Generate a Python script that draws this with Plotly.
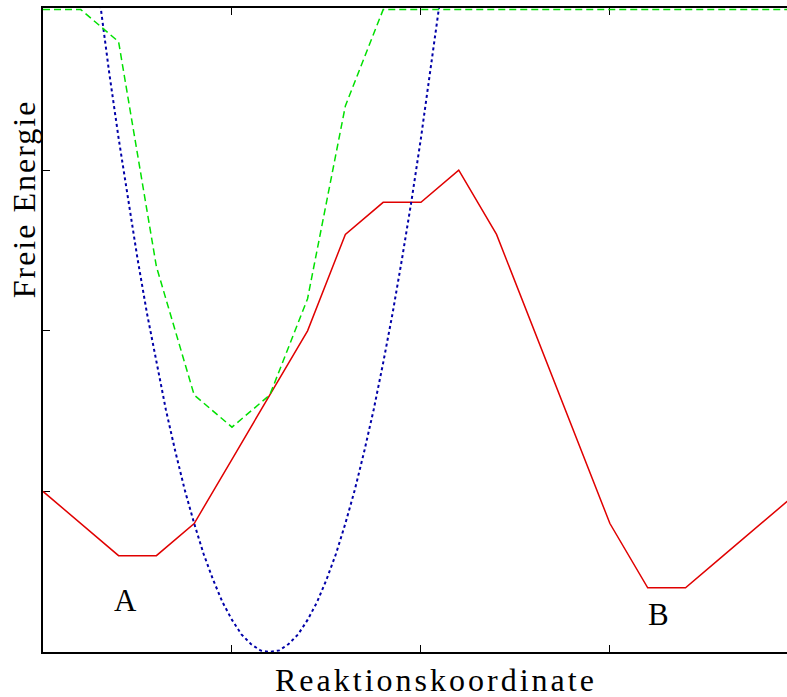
import plotly.graph_objects as go

# Reaction coordinate grid (data units)
x_grid = [0.0, 0.2, 0.4, 0.6, 0.8, 1.0, 1.2, 1.4, 1.6, 1.8, 2.0,
          2.2, 2.4, 2.6, 2.8, 3.0, 3.2, 3.4, 3.6, 3.8, 4.0]
# Free energy profile (red, solid)
free_energy = [1.0, 0.8, 0.6, 0.6, 0.8, 1.2, 1.6, 2.0, 2.6, 2.8, 2.8,
               3.0, 2.6, 2.0, 1.4, 0.8, 0.4, 0.4, 0.6, 0.8, 1.0]
# Biased profile (green, dashed), capped at top of axes
biased_energy = [4.0, 4.0, 3.8, 2.4, 1.6, 1.4, 1.6, 2.2, 3.4, 4.0, 4.0,
                 4.0, 4.0, 4.0, 4.0, 4.0, 4.0, 4.0, 4.0, 4.0, 4.0]
# Bias potential (blue, dotted)
bias_x = [0.25, 0.30, 0.35, 0.40, 0.45, 0.50, 0.55, 0.60, 0.65, 0.70, 0.75,
          0.80, 0.85, 0.90, 0.95, 1.00, 1.05, 1.10, 1.15, 1.20, 1.25, 1.30,
          1.35, 1.40, 1.45, 1.50, 1.55, 1.60, 1.65, 1.70, 1.75, 1.80, 1.85,
          1.90, 1.95, 2.00, 2.05, 2.10, 2.15]
bias_y = [4.51, 4.05, 3.61, 3.20, 2.81, 2.45, 2.11, 1.80, 1.51, 1.25, 1.01,
          0.80, 0.61, 0.45, 0.31, 0.20, 0.11, 0.05, 0.01, 0.00, 0.01, 0.05,
          0.11, 0.20, 0.31, 0.45, 0.61, 0.80, 1.01, 1.25, 1.51, 1.80, 2.11,
          2.45, 2.81, 3.20, 3.61, 4.05, 4.51]

x_ticks = [1, 2, 3]
y_ticks = [1, 2, 3]
state_labels = ["A", "B"]
state_x = [0.435, 3.256]
state_y = [0.32, 0.234]

FONT = "Liberation Serif, Times New Roman, serif"

fig = go.Figure()
fig.add_trace(go.Scatter(x=x_grid, y=free_energy, mode="lines",
                         line=dict(color="#e00000", width=1.5), showlegend=False,
                         hoverinfo="skip"))
fig.add_trace(go.Scatter(x=bias_x, y=bias_y, mode="lines",
                         line=dict(color="#0000a8", width=2, dash="dot"), showlegend=False,
                         hoverinfo="skip"))
fig.add_trace(go.Scatter(x=x_grid, y=biased_energy, mode="lines",
                         line=dict(color="#00e000", width=1.5, dash="7px,4px"), showlegend=False,
                         hoverinfo="skip"))

for lab, lx, ly in zip(state_labels, state_x, state_y):
    fig.add_annotation(x=lx, y=ly, text=lab, showarrow=False,
                       font=dict(family=FONT, size=31, color="black"))

fig.add_annotation(xref="paper", yref="paper", x=0.528, y=-0.0435,
                   text='<span style="letter-spacing:3px">Reaktionskoordinate</span>',
                   showarrow=False, xanchor="center", yanchor="middle",
                   font=dict(family=FONT, size=32, color="black"))
fig.add_annotation(xref="paper", yref="paper", x=-0.0255, y=0.703,
                   text='<span style="letter-spacing:2px">Freie Energie</span>',
                   showarrow=False, textangle=-90,
                   xanchor="center", yanchor="middle",
                   font=dict(family=FONT, size=32, color="black"))

fig.update_layout(
    width=787, height=697,
    margin=dict(l=43, r=0, t=8, b=45),
    paper_bgcolor="white", plot_bgcolor="white",
    hovermode=False,
    xaxis=dict(range=[0, 3.937], tickvals=x_ticks, showticklabels=False,
               ticks="inside", ticklen=7, tickwidth=1, tickcolor="black",
               showline=True, linecolor="black", linewidth=1.5, mirror="ticks",
               showgrid=False, zeroline=False, layer="below traces"),
    yaxis=dict(range=[0, 4.01], tickvals=y_ticks, showticklabels=False,
               ticks="inside", ticklen=7, tickwidth=1, tickcolor="black",
               showline=True, linecolor="black", linewidth=1.5, mirror=False,
               showgrid=False, zeroline=False, layer="below traces"),
)

fig.write_html(
    "out.html",
    config={"displayModeBar": False},
    post_script="document.body.style.margin='0';document.body.style.overflow='hidden';",
)
